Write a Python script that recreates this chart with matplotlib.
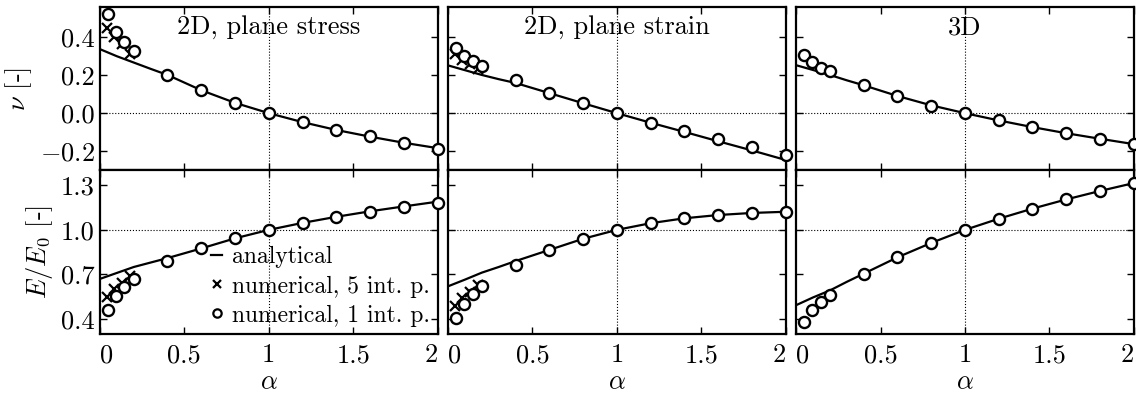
import numpy as np
import matplotlib
matplotlib.use("Agg")
import matplotlib.pyplot as plt
from matplotlib.lines import Line2D

plt.rcParams['font.family'] = 'serif'
plt.rcParams['font.serif'] = ['cmr10']
plt.rcParams['mathtext.fontset'] = 'cm'
plt.rcParams['axes.formatter.use_mathtext'] = True
plt.rcParams['font.size'] = 19

titles = ['2D, plane stress', '2D, plane strain', '3D']

# analytical curves
alphaLine = [0, 0.1, 0.2, 0.3, 0.4, 0.6, 0.8, 1.0, 1.2, 1.4, 1.6, 1.8, 2.0]
nuLine = [
    [0.335, 0.298, 0.265, 0.232, 0.200, 0.120, 0.054, 0.0, -0.047, -0.088, -0.123, -0.155, -0.183],
    [0.250, 0.225, 0.200, 0.178, 0.158, 0.105, 0.052, 0.0, -0.050, -0.098, -0.147, -0.195, -0.245],
    [0.251, 0.226, 0.200, 0.172, 0.146, 0.090, 0.041, 0.0, -0.038, -0.073, -0.105, -0.134, -0.162],
]
eLine = [
    [0.670, 0.710, 0.750, 0.780, 0.810, 0.875, 0.943, 1.0, 1.047, 1.088, 1.125, 1.158, 1.190],
    [0.620, 0.665, 0.712, 0.750, 0.790, 0.865, 0.940, 1.0, 1.045, 1.078, 1.100, 1.114, 1.122],
    [0.493, 0.545, 0.592, 0.650, 0.705, 0.815, 0.912, 1.0, 1.075, 1.143, 1.205, 1.262, 1.315],
]

# numerical, 1 int. p.
alphaNum1 = [0.045, 0.095, 0.145, 0.2, 0.4, 0.6, 0.8, 1.0, 1.2, 1.4, 1.6, 1.8, 2.0]
nuNum1 = [
    [0.517, 0.425, 0.373, 0.327, 0.202, 0.120, 0.052, 0.0, -0.047, -0.087, -0.122, -0.155, -0.185],
    [0.341, 0.301, 0.272, 0.245, 0.171, 0.107, 0.051, 0.0, -0.050, -0.094, -0.137, -0.179, -0.221],
    [0.306, 0.268, 0.237, 0.219, 0.146, 0.089, 0.040, 0.0, -0.038, -0.073, -0.106, -0.134, -0.163],
]
eNum1 = [
    [0.461, 0.552, 0.614, 0.666, 0.790, 0.875, 0.943, 1.0, 1.045, 1.086, 1.120, 1.152, 1.182],
    [0.409, 0.504, 0.568, 0.620, 0.766, 0.864, 0.941, 1.0, 1.045, 1.077, 1.098, 1.114, 1.123],
    [0.382, 0.459, 0.516, 0.562, 0.705, 0.818, 0.914, 1.0, 1.073, 1.143, 1.205, 1.261, 1.314],
]

# numerical, 5 int. p. (only 2D)
alphaNum5 = [0.04, 0.085, 0.13, 0.18]
nuNum5 = [[0.445, 0.400, 0.360, 0.310], [0.310, 0.280, 0.255, 0.230], None]
eNum5 = [[0.550, 0.600, 0.645, 0.690], [0.490, 0.540, 0.585, 0.630], None]

xticks = [0, 0.5, 1, 1.5, 2]
xticklabels = ['0', '0.5', '1', '1.5', '2']
nuTicks = [-0.2, 0.0, 0.2, 0.4]
eTicks = [0.4, 0.7, 1.0, 1.3]


def fmt(v):
    s = f"{v:.1f}"
    return f"$-${s[1:]}" if v < 0 else s


def styleAx(ax):
    ax.set_xlim(0, 2)
    ax.set_xticks(xticks)
    ax.tick_params(direction='in', top=True, right=True, length=5, width=1, pad=4)
    ax.tick_params(axis='x', pad=7)
    for sp in ax.spines.values():
        sp.set_linewidth(1.6)


fig, axes = plt.subplots(2, 3, figsize=(11.36, 3.96), dpi=100)
fig.subplots_adjust(left=0.088, right=0.998, top=0.982, bottom=0.157, wspace=0.031, hspace=0)

lk = dict(color='k', lw=1.6)
ok = dict(ls='none', marker='o', ms=8, mfc='white', mec='k', mew=1.7, clip_on=False, zorder=4)
xk = dict(ls='none', marker='x', ms=7.5, mec='k', mew=1.6, clip_on=False, zorder=3)

for j in range(3):
    axT = axes[0, j]
    axB = axes[1, j]
    for ax, line, num1, num5, yl, ticks, ref in [
        (axT, nuLine[j], nuNum1[j], nuNum5[j], (-0.3, 0.555), nuTicks, 0.0),
        (axB, eLine[j], eNum1[j], eNum5[j], (0.3, 1.4), eTicks, 1.0),
    ]:
        styleAx(ax)
        ax.axvline(1, color='k', ls=':', lw=0.8, zorder=1)
        ax.axhline(ref, color='k', ls=':', lw=0.8, zorder=1)
        ax.plot(alphaLine, line, zorder=2, **lk)
        if num5 is not None:
            ax.plot(alphaNum5, num5, **xk)
        ax.plot(alphaNum1, num1, **ok)
        ax.set_ylim(*yl)
        ax.set_yticks(ticks)
        if j == 0:
            ax.set_yticklabels([fmt(t) for t in ticks])
        else:
            ax.set_yticklabels([])
    axT.set_xticklabels([])
    axB.set_xticklabels(xticklabels)
    labs = axB.get_xticklabels()
    labs[0].set_ha('left')
    labs[-1].set_ha('right')
    axB.set_xlabel(r'$\alpha$', labelpad=2)
    axT.text(0.5, 0.95, titles[j], transform=axT.transAxes, ha='center', va='top')

axes[0, 0].set_ylabel(r'$\nu$ [-]', labelpad=4)
axes[1, 0].set_ylabel(r'$E/E_0$ [-]', labelpad=4)

handles = [
    Line2D([], [], color='k', lw=1.6),
    Line2D([], [], ls='none', marker='x', ms=6, mec='k', mew=1.6),
    Line2D([], [], ls='none', marker='o', ms=6, mfc='white', mec='k', mew=1.6),
]
axes[1, 0].legend(handles, ['analytical', 'numerical, 5 int. p.', 'numerical, 1 int. p.'],
                  loc='lower right', frameon=False, handlelength=0.45, handletextpad=0.45,
                  labelspacing=0.3, borderaxespad=0.0, borderpad=0.3, fontsize=17)

fig.savefig('out.png', dpi=100)
